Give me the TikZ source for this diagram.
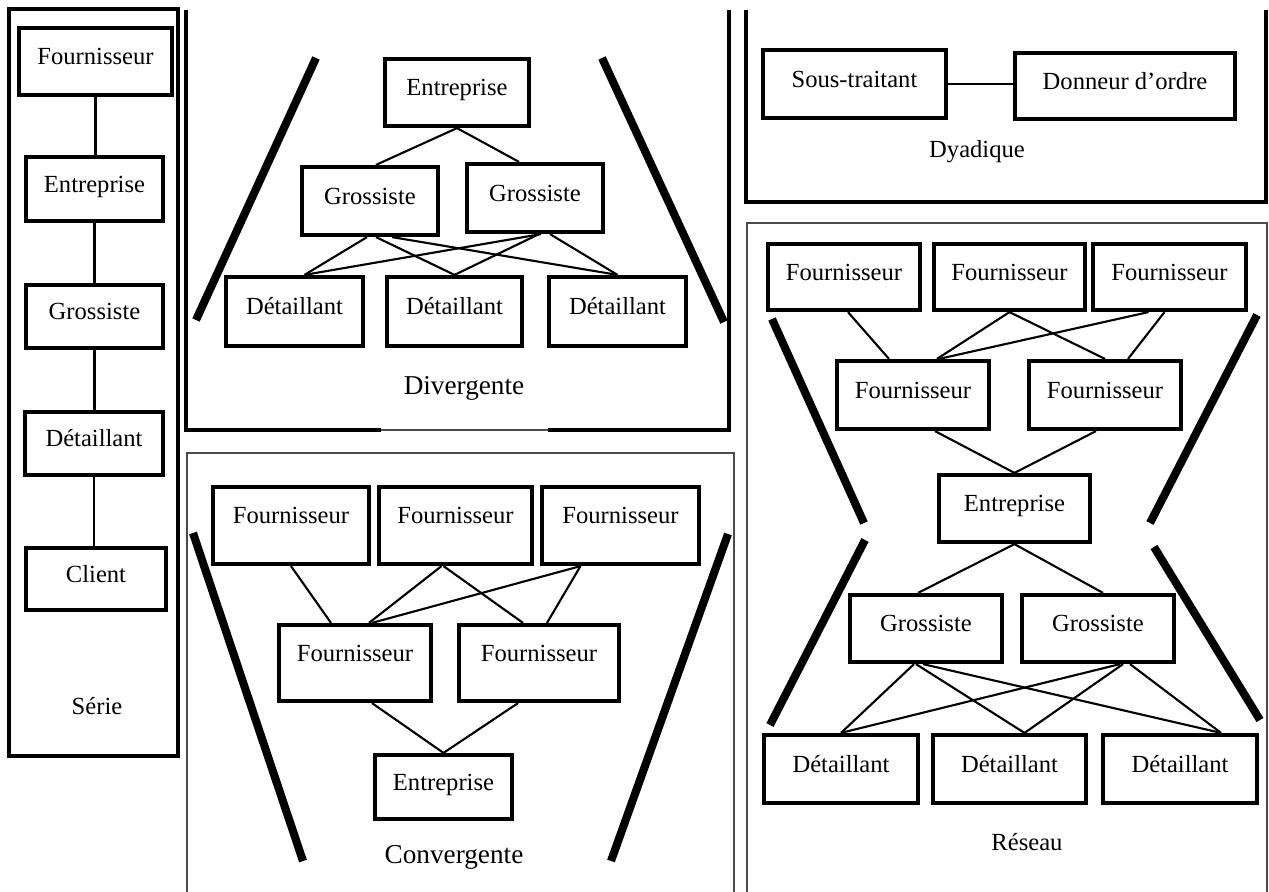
\documentclass[tikz,border=0pt]{standalone}
\usepackage{fontspec}
\setmainfont{Liberation Serif}
\usetikzlibrary{calc}

\begin{document}
\begin{tikzpicture}[x = 0.02cm, y = -0.02cm,
	box/.style = {draw, line width = 2.4pt, inner sep = 0pt, font = \fontsize{14}{16}\selectfont, text height = 9.8pt, text depth = 6.2pt},
	high/.style = {text depth = 11.8pt},
	link/.style = {line width = 1.2pt},
	bar/.style = {line width = 4.6pt},
	panel/.style = {line width = 1.8pt},
	thinpanel/.style = {line width = 0.6pt, black!70},
	paneltitle/.style = {font = \fontsize{14}{16}\selectfont},
	bigtitle/.style = {font = \fontsize{15.5}{18}\selectfont}]
		\useasboundingbox (0, 0) rectangle (1269, 892);
		%%%%%%%%%%%%% Serie
		\draw[panel] (9, 9) rectangle (178, 756);
		\node[box, minimum width = 3.06cm, minimum height = 1.34cm] (s1) at (95.5, 61.5) {Fournisseur};
		\node[box, minimum width = 2.74cm, minimum height = 1.28cm] (s2) at (94.5, 189) {Entreprise};
		\node[box, minimum width = 2.74cm, minimum height = 1.26cm] (s3) at (94.5, 316.5) {Grossiste};
		\node[box, minimum width = 2.76cm, minimum height = 1.26cm] (s4) at (94, 443.5) {Détaillant};
		\node[box, minimum width = 2.80cm, minimum height = 1.24cm] (s5) at (96, 579) {Client};
		\node[paneltitle] (serie) at (97, 706) {Série};
		\draw[link] (s1.south) to (s1.south |- s2.north); \draw[link] (s2.south) to (s2.south |- s3.north);
		\draw[link] (s3.south) to (s3.south |- s4.north); \draw[link] (s4.south) to (s4.south |- s5.north);
		%%%%%%%%%%%%% Divergente
		\draw[panel] (186, 10) |- (381, 430); \draw[thinpanel] (381, 430) -- (548, 430);
		\draw[panel] (548, 430) -| (729, 10);
		\draw[bar] (316, 58) -- (196, 320); \draw[bar] (602, 58) -- (724, 322);
		\node[box, minimum width = 2.88cm, minimum height = 1.34cm] (de) at (457, 92.5) {Entreprise};
		\node[box, minimum width = 2.72cm, minimum height = 1.36cm] (dg1) at (370, 201) {Grossiste};
		\node[box, minimum width = 2.72cm, minimum height = 1.36cm] (dg2) at (535, 198) {Grossiste};
		\node[box, minimum width = 2.74cm, minimum height = 1.38cm] (dd1) at (294.5, 311.5) {Détaillant};
		\node[box, minimum width = 2.70cm, minimum height = 1.38cm] (dd2) at (454.5, 311.5) {Détaillant};
		\node[box, minimum width = 2.74cm, minimum height = 1.38cm] (dd3) at (617.5, 311.5) {Détaillant};
		\node[bigtitle] (div) at (464, 388) {Divergente};
		\draw[link] (de.south) to ($(dg1.north)+(6, 0)$); \draw[link] (de.south) to ($(dg2.north)+(-16, 0)$);
		\draw[link] ($(dg1.south)+(-3, 0)$) to ($(dd1.north)+(10, 0)$); \draw[link] ($(dg1.south)+(6, 0)$) to (dd2.north);
		\draw[link] ($(dg1.south)+(22, 0)$) to (dd3.north);
		\draw[link] ($(dg2.south)+(6, 0)$) to ($(dd1.north)+(10, 0)$); \draw[link] ($(dg2.south)+(4, 0)$) to (dd2.north);
		\draw[link] ($(dg2.south)+(15, 0)$) to (dd3.north);
		%%%%%%%%%%%%% Convergente
		\draw[thinpanel] (187, 892) |- (734, 453) -- (734, 892);
		\draw[bar] (193, 533) -- (303, 861); \draw[bar] (728, 534) -- (611, 861);
		\node[box, high, minimum width = 3.12cm, minimum height = 1.54cm] (cf1) at (291, 525.5) {Fournisseur};
		\node[box, high, minimum width = 3.06cm, minimum height = 1.54cm] (cf2) at (455.5, 525.5) {Fournisseur};
		\node[box, high, minimum width = 3.14cm, minimum height = 1.54cm] (cf3) at (620.5, 525.5) {Fournisseur};
		\node[box, high, minimum width = 3.04cm, minimum height = 1.52cm] (cm1) at (355, 663) {Fournisseur};
		\node[box, high, minimum width = 3.20cm, minimum height = 1.52cm] (cm2) at (539, 663) {Fournisseur};
		\node[box, minimum width = 2.74cm, minimum height = 1.28cm] (ce) at (443.5, 787) {Entreprise};
		\node[bigtitle] (conv) at (454, 857) {Convergente};
		\draw[link] (cf1.south) to ($(cm1.north)+(-24, 0)$);
		\draw[link] ($(cf2.south)+(-14, 0)$) to ($(cm1.north)+(14, 0)$); \draw[link] ($(cf2.south)+(-12, 0)$) to ($(cm2.north)+(-16, 0)$);
		\draw[link] ($(cf3.south)+(-40, 0)$) to ($(cm1.north)+(17, 0)$); \draw[link] ($(cf3.south)+(-40, 0)$) to ($(cm2.north)+(8, 0)$);
		\draw[link] ($(cm1.south)+(17, 0)$) to (ce.north); \draw[link] ($(cm2.south)+(-21, 0)$) to (ce.north);
		%%%%%%%%%%%%% Dyadique
		\draw[panel] (746, 10) |- (1266, 202) -- (1266, 10);
		\node[box, minimum width = 3.66cm, minimum height = 1.36cm] (st) at (854.5, 84) {Sous-traitant};
		\node[box, minimum width = 4.40cm, minimum height = 1.32cm] (do) at (1125, 86) {Donneur d’ordre};
		\node[paneltitle] (dya) at (977, 152) {Dyadique};
		\draw[link] (st.east) to (st.east -| do.west);
		%%%%%%%%%%%%% Reseau
		\draw[thinpanel] (747, 892) |- (1267, 223) -- (1267, 892);
		\draw[bar] (772, 319) -- (864, 523); \draw[bar] (1257, 315) -- (1150, 523);
		\draw[bar] (865, 540) -- (770, 725); \draw[bar] (1154, 547) -- (1260, 720);
		\node[box, minimum width = 3.04cm, minimum height = 1.32cm] (rf1) at (844, 277) {Fournisseur};
		\node[box, minimum width = 3.02cm, minimum height = 1.32cm] (rf2) at (1009.5, 277) {Fournisseur};
		\node[box, minimum width = 3.06cm, minimum height = 1.32cm] (rf3) at (1169.5, 277) {Fournisseur};
		\node[box, minimum width = 3.04cm, minimum height = 1.36cm] (rm1) at (913, 395) {Fournisseur};
		\node[box, minimum width = 3.04cm, minimum height = 1.36cm] (rm2) at (1105, 395) {Fournisseur};
		\node[box, minimum width = 3.02cm, minimum height = 1.34cm] (re) at (1014.5, 508.5) {Entreprise};
		\node[box, minimum width = 3.04cm, minimum height = 1.34cm] (rg1) at (926, 628.5) {Grossiste};
		\node[box, minimum width = 3.04cm, minimum height = 1.34cm] (rg2) at (1098, 628.5) {Grossiste};
		\node[box, minimum width = 3.08cm, minimum height = 1.36cm] (rd1) at (841, 769) {Détaillant};
		\node[box, minimum width = 3.06cm, minimum height = 1.36cm] (rd2) at (1009.5, 769) {Détaillant};
		\node[box, minimum width = 3.08cm, minimum height = 1.36cm] (rd3) at (1180, 769) {Détaillant};
		\node[paneltitle] (res) at (1027, 842) {Réseau};
		\draw[link] ($(rf1.south)+(4, 0)$) to ($(rm1.north)+(-24, 0)$);
		\draw[link] (rf2.south) to ($(rm1.north)+(24, 0)$); \draw[link] (rf2.south) to (rm2.north);
		\draw[link] ($(rf3.south)+(-21, 0)$) to ($(rm1.north)+(26, 0)$); \draw[link] ($(rf3.south)+(-5, 0)$) to ($(rm2.north)+(23, 0)$);
		\draw[link] ($(rm1.south)+(22, 0)$) to (re.north); \draw[link] ($(rm2.south)+(-9, 0)$) to (re.north);
		\draw[link] (re.south) to ($(rg1.north)+(-8, 0)$); \draw[link] (re.south) to ($(rg2.north)+(5, 0)$);
		\draw[link] ($(rg1.south)+(-12, 0)$) to (rd1.north); \draw[link] ($(rg1.south)+(-10, 0)$) to ($(rd2.north)+(15, 0)$);
		\draw[link] ($(rg1.south)+(-3, 0)$) to ($(rd3.north)+(41, 0)$);
		\draw[link] ($(rg2.south)+(22, 0)$) to (rd1.north); \draw[link] ($(rg2.south)+(25, 0)$) to ($(rd2.north)+(15, 0)$);
		\draw[link] ($(rg2.south)+(32, 0)$) to ($(rd3.north)+(41, 0)$);
\end{tikzpicture}
\end{document}
